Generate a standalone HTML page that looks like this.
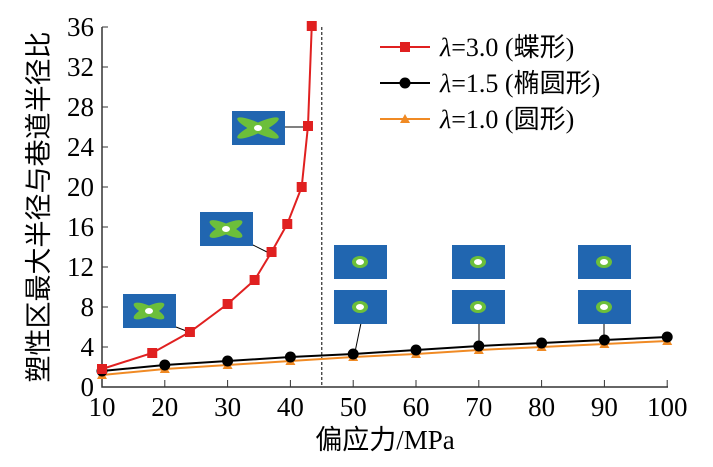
<!DOCTYPE html>
<html><head><meta charset="utf-8"><style>body{margin:0;background:#fff}text{font-family:"Liberation Serif","Times New Roman",Times,serif !important}</style></head>
<body>
<svg id="c" width="713" height="462" xmlns="http://www.w3.org/2000/svg"></svg>
<script>
const redX=[10,18,24,30,34.3,37,39.5,41.8,42.8,43.4];
const redY=[1.8,3.4,5.5,8.3,10.7,13.5,16.3,20,26.1,36.1];
const blkX=[10,20,30,40,50,60,70,80,90,100];
const blkY=[1.6,2.2,2.6,3.0,3.3,3.7,4.1,4.4,4.7,5.0];
const orgX=[10,20,30,40,50,60,70,80,90,100];
const orgY=[1.2,1.8,2.2,2.6,3.0,3.3,3.7,4.0,4.3,4.6];
const xTicks=[10,20,30,40,50,60,70,80,90,100];
const yTicks=[0,4,8,12,16,20,24,28,32,36];
const NS="http://www.w3.org/2000/svg",s=document.getElementById('c');
const FF='font-family:"Liberation Serif","Times New Roman",serif';
const X=v=>102+(v-10)*62.8/10, Y=v=>387-v*10;
function el(t,a,p){const e=document.createElementNS(NS,t);for(const k in a)e.setAttribute(k,a[k]);if(t==='text')e.setAttribute('style',FF);(p||s).appendChild(e);return e;}
let ax=el('path',{d:`M102,27V387H668`,fill:'none',stroke:'#333','stroke-width':1.5});


yTicks.forEach(v=>{el('line',{x1:102,x2:108,y1:Y(v),y2:Y(v),stroke:'#333'});
const t=el('text',{x:94,y:Y(v)+9,'text-anchor':'end','font-size':27});t.textContent=v;

});
xTicks.forEach(v=>{el('line',{x1:X(v),x2:X(v),y1:387,y2:380,stroke:'#333'});
const t=el('text',{x:X(v),y:416,'text-anchor':'middle','font-size':27});t.textContent=v;

});
let xt=el('text',{x:385,y:449,'text-anchor':'middle','font-size':27});xt.textContent='偏应力/MPa';


let yt=el('text',{x:0,y:0,'text-anchor':'middle','font-size':27,transform:'translate(48,207) rotate(-90)'});yt.textContent='塑性区最大半径与巷道半径比';


let dl=el('line',{x1:X(45),x2:X(45),y1:27,y2:387,stroke:'#000','stroke-dasharray':'3,2'});


function inset(x,y,cross,name){const g=el('g',{});
el('rect',{x,y,width:53,height:34,fill:'#2166b0'},g);
if(cross){el('ellipse',{cx:x+26,cy:y+17,rx:24*cross,ry:5,fill:'#6cbf3a',transform:`rotate(25 ${x+26} ${y+17})`},g);
el('ellipse',{cx:x+26,cy:y+17,rx:24*cross,ry:5,fill:'#6cbf3a',transform:`rotate(-25 ${x+26} ${y+17})`},g);}
else el('ellipse',{cx:x+26,cy:y+17,rx:8,ry:6,fill:'#6cbf3a'},g);
el('ellipse',{cx:x+26,cy:y+17,rx:4,ry:3,fill:'#fff'},g);}
el('line',{x1:176,x2:189,y1:327,y2:332,stroke:'#000'});inset(123,294,0.7,'inset-red-1');
el('line',{x1:253,x2:267,y1:245,y2:252,stroke:'#000'});inset(200,212,0.75,'inset-red-2');
el('line',{x1:285,x2:308,y1:127,y2:127,stroke:'#000'});inset(232,111,0.95,'inset-red-3');
el('line',{x1:361,x2:355,y1:323,y2:352,stroke:'#000'});el('line',{x1:479,x2:479,y1:323,y2:345,stroke:'#000'});el('line',{x1:604,x2:604,y1:323,y2:340,stroke:'#000'});
[334,452,578].forEach((x,i)=>{inset(x,245,0,'inset-ellipse-'+i);inset(x,290,0,'inset-circle-'+i);});
function series(xs,ys,col,mk,name){const g=el('g',{});
el('polyline',{points:xs.map((v,i)=>X(v)+','+Y(ys[i])).join(' '),fill:'none',stroke:col,'stroke-width':2},g);
xs.forEach((v,i)=>mk(X(v),Y(ys[i]),g));}
const sq=(x,y,g)=>el('rect',{x:x-5,y:y-5,width:10,height:10,fill:'#e02020'},g);
const ci=(x,y,g)=>el('circle',{cx:x,cy:y,r:5.5,fill:'#000'},g);
const tr=(x,y,g)=>el('path',{d:`M${x},${y-5}L${x+5},${y+4}L${x-5},${y+4}Z`,fill:'#f08a24'},g);
series(orgX,orgY,'#f08a24',tr,'series-lambda-1-0');
series(blkX,blkY,'#000',ci,'series-lambda-1-5');
series(redX,redY,'#e02020',sq,'series-lambda-3-0');
[['#e02020',sq,'=3.0 (蝶形)'],['#000',ci,'=1.5 (椭圆形)'],['#f08a24',tr,'=1.0 (圆形)']].forEach((l,i)=>{const y=47+i*36;
const g=el('g',{});
el('line',{x1:380,x2:430,y1:y,y2:y,stroke:l[0],'stroke-width':2},g);l[1](405,y,g);
const t=el('text',{x:440,y:y+9,'font-size':26},g);t.innerHTML='<tspan font-style="italic">λ</tspan>'+l[2];});
</script>
</body></html>
